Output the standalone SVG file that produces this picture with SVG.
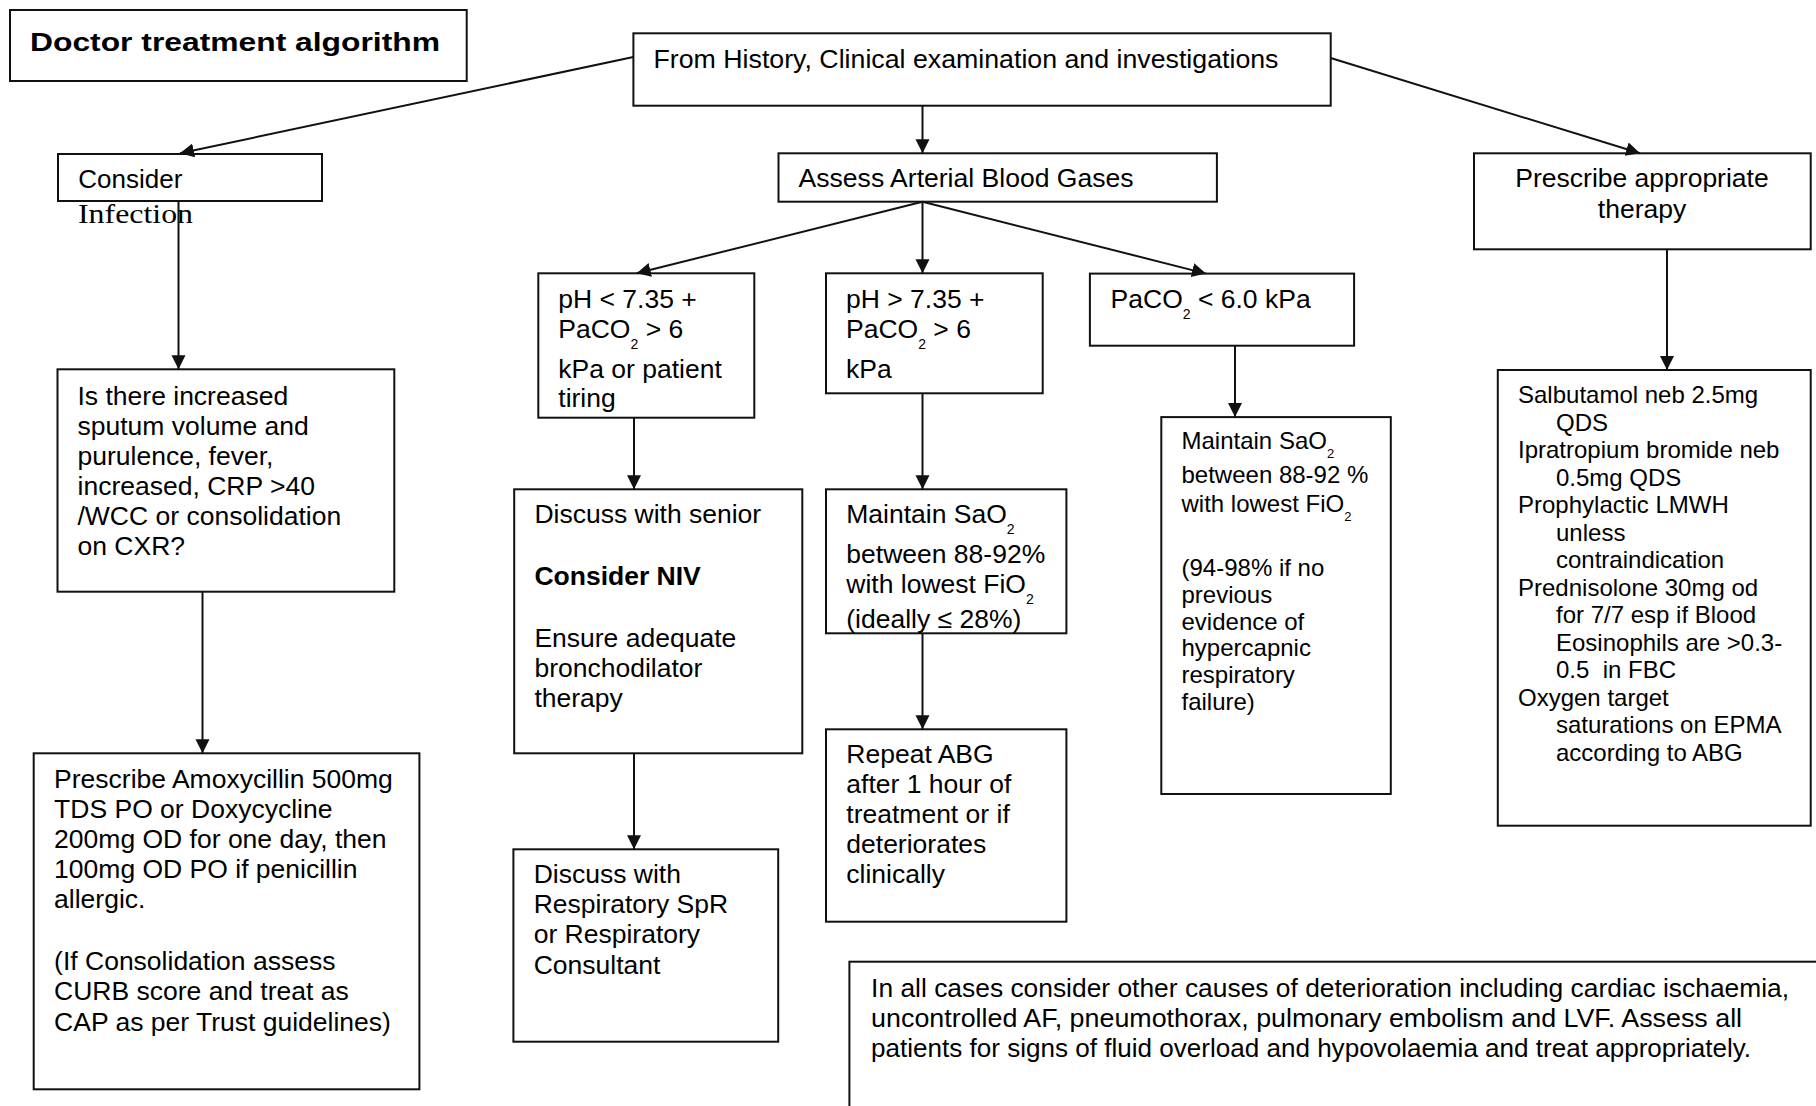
<svg xmlns="http://www.w3.org/2000/svg" width="1816" height="1106" viewBox="0 0 1816 1106">
<style>
.box{fill:#fff;stroke:#111;stroke-width:2}
.ln{fill:none;stroke:#111;stroke-width:2}
text{font-family:"Liberation Sans",Arial,sans-serif;font-size:26.5px;fill:#000}
.s{font-size:24px}
.b{font-weight:bold}
.serif{font-family:"Liberation Serif","Times New Roman",serif}
</style>
<defs>
<marker id="ah" markerUnits="userSpaceOnUse" markerWidth="16" markerHeight="16" refX="14" refY="7" orient="auto">
<path d="M0,0 L14,7 L0,14 z" fill="#111"/>
</marker>
</defs>
<rect width="1816" height="1106" fill="#fff"/>

<g id="title">
<rect class="box" x="10" y="10" width="456.7" height="71"/>
<text class="b" x="30" y="51" font-size="28" textLength="410" lengthAdjust="spacingAndGlyphs">Doctor treatment algorithm</text>
</g>

<g id="history">
<rect class="box" x="633.4" y="33.3" width="697.3" height="72.4"/>
<text x="653.5" y="68.3" textLength="625" lengthAdjust="spacingAndGlyphs">From History, Clinical examination and investigations</text>
</g>

<g id="consider">
<rect class="box" x="58" y="154" width="264" height="47"/>
<text x="78.3" y="188" textLength="104" lengthAdjust="spacingAndGlyphs">Consider</text>
<text class="serif" x="78" y="223" font-size="29" textLength="115" lengthAdjust="spacingAndGlyphs">Infection</text>
</g>

<g id="assess">
<rect class="box" x="778.5" y="153.3" width="438.4" height="48.4"/>
<text x="798.6" y="186.7" textLength="335" lengthAdjust="spacingAndGlyphs">Assess Arterial Blood Gases</text>
</g>

<g id="prescribe">
<rect class="box" x="1474" y="153.3" width="336.7" height="96"/>
<text x="1642" y="187.3" text-anchor="middle">Prescribe appropriate</text>
<text x="1642" y="218.3" text-anchor="middle">therapy</text>
</g>

<g id="infection-q">
<rect class="box" x="57.5" y="369.3" width="336.8" height="222.4"/>
<text x="77.5" y="405">Is there increased</text>
<text x="77.5" y="435">sputum volume and</text>
<text x="77.5" y="465">purulence, fever,</text>
<text x="77.5" y="495">increased, CRP &gt;40</text>
<text x="77.5" y="525">/WCC or consolidation</text>
<text x="77.5" y="555">on CXR?</text>
</g>

<g id="ph-low">
<rect class="box" x="538.3" y="273.3" width="216" height="144.4"/>
<text x="558.3" y="308.3">pH &lt; 7.35 +</text>
<text x="558.3" y="338.3">PaCO<tspan font-size="14" dy="11">2</tspan><tspan dy="-11"> &gt; 6</tspan></text>
<text x="558.3" y="378.3">kPa or patient</text>
<text x="558.3" y="406.7">tiring</text>
</g>

<g id="ph-high">
<rect class="box" x="826" y="273.3" width="216.7" height="120"/>
<text x="846" y="308.3">pH &gt; 7.35 +</text>
<text x="846" y="338.3">PaCO<tspan font-size="14" dy="11">2</tspan><tspan dy="-11"> &gt; 6</tspan></text>
<text x="846" y="378.3">kPa</text>
</g>

<g id="paco2-low">
<rect class="box" x="1089.9" y="273.6" width="264.2" height="72.1"/>
<text x="1110.6" y="308.2">PaCO<tspan font-size="14" dy="11">2</tspan><tspan dy="-11"> &lt; 6.0 kPa</tspan></text>
</g>

<g id="maintain-2">
<rect class="box" x="1161.3" y="417.1" width="229.5" height="376.9"/>
<text class="s" x="1181.5" y="449.3">Maintain SaO<tspan font-size="13" dy="9">2</tspan></text>
<text class="s" x="1181.5" y="483">between 88-92 %</text>
<text class="s" x="1181.5" y="511.8">with lowest FiO<tspan font-size="13" dy="9">2</tspan></text>
<text class="s" x="1181.5" y="576">(94-98% if no</text>
<text class="s" x="1181.5" y="602.9">previous</text>
<text class="s" x="1181.5" y="629.6">evidence of</text>
<text class="s" x="1181.5" y="656.4">hypercapnic</text>
<text class="s" x="1181.5" y="683">respiratory</text>
<text class="s" x="1181.5" y="710">failure)</text>
</g>

<g id="therapy-list">
<rect class="box" x="1497.8" y="370" width="312.9" height="455.7"/>
<text class="s" x="1518" y="403">Salbutamol neb 2.5mg</text>
<text class="s" x="1556" y="430.5">QDS</text>
<text class="s" x="1518" y="458">Ipratropium bromide neb</text>
<text class="s" x="1556" y="485.5">0.5mg QDS</text>
<text class="s" x="1518" y="513">Prophylactic LMWH</text>
<text class="s" x="1556" y="540.5">unless</text>
<text class="s" x="1556" y="568">contraindication</text>
<text class="s" x="1518" y="595.5">Prednisolone 30mg od</text>
<text class="s" x="1556" y="623">for 7/7 esp if Blood</text>
<text class="s" x="1556" y="650.5">Eosinophils are &gt;0.3-</text>
<text class="s" x="1556" y="678">0.5&#160; in FBC</text>
<text class="s" x="1518" y="705.5">Oxygen target</text>
<text class="s" x="1556" y="733">saturations on EPMA</text>
<text class="s" x="1556" y="760.5">according to ABG</text>
</g>

<g id="discuss-senior">
<rect class="box" x="514.2" y="489.3" width="288.1" height="264"/>
<text x="534.4" y="523.3">Discuss with senior</text>
<text class="b" x="534.4" y="585">Consider NIV</text>
<text x="534.4" y="646.7">Ensure adequate</text>
<text x="534.4" y="676.7">bronchodilator</text>
<text x="534.4" y="706.7">therapy</text>
</g>

<g id="maintain-1">
<rect class="box" x="826" y="489.3" width="240.4" height="144"/>
<text x="846.3" y="523.3">Maintain SaO<tspan font-size="14" dy="11">2</tspan></text>
<text x="846.3" y="562.5">between 88-92%</text>
<text x="846.3" y="593.3">with lowest FiO<tspan font-size="14" dy="11">2</tspan></text>
<text x="846.3" y="628">(ideally ≤ 28%)</text>
</g>

<g id="amoxycillin">
<rect class="box" x="33.7" y="753.3" width="385.7" height="336"/>
<text x="54.1" y="788.3">Prescribe Amoxycillin 500mg</text>
<text x="54.1" y="818.3">TDS PO or Doxycycline</text>
<text x="54.1" y="848.3">200mg OD for one day, then</text>
<text x="54.1" y="878.3">100mg OD PO if penicillin</text>
<text x="54.1" y="908.3">allergic.</text>
<text x="54.1" y="970">(If Consolidation assess</text>
<text x="54.1" y="1000">CURB score and treat as</text>
<text x="54.1" y="1031">CAP as per Trust guidelines)</text>
</g>

<g id="discuss-resp">
<rect class="box" x="513.4" y="849.3" width="264.8" height="192.4"/>
<text x="533.7" y="883.3">Discuss with</text>
<text x="533.7" y="913.3">Respiratory SpR</text>
<text x="533.7" y="943.3">or Respiratory</text>
<text x="533.7" y="974">Consultant</text>
</g>

<g id="repeat-abg">
<rect class="box" x="826" y="729.3" width="240.4" height="192.4"/>
<text x="846.3" y="763.3">Repeat ABG</text>
<text x="846.3" y="793.3">after 1 hour of</text>
<text x="846.3" y="823.3">treatment or if</text>
<text x="846.3" y="853.3">deteriorates</text>
<text x="846.3" y="883.3">clinically</text>
</g>

<g id="all-cases">
<rect class="box" x="849.4" y="961.7" width="980" height="160"/>
<text x="871.1" y="996.5" font-size="25" textLength="918" lengthAdjust="spacingAndGlyphs">In all cases consider other causes of deterioration including cardiac ischaemia,</text>
<text x="871.1" y="1026.5" font-size="25" textLength="871" lengthAdjust="spacingAndGlyphs">uncontrolled AF, pneumothorax, pulmonary embolism and LVF. Assess all</text>
<text x="871.1" y="1056.5" font-size="25" textLength="880" lengthAdjust="spacingAndGlyphs">patients for signs of fluid overload and hypovolaemia and treat appropriately.</text>
</g>

<g id="connectors">
<line class="ln" x1="633.4" y1="57" x2="180" y2="153.3" marker-end="url(#ah)"/>
<line class="ln" x1="922.5" y1="105.7" x2="922.5" y2="153.3" marker-end="url(#ah)"/>
<line class="ln" x1="1330.7" y1="58" x2="1640" y2="153.3" marker-end="url(#ah)"/>
<line class="ln" x1="178.5" y1="201" x2="178.5" y2="369.3" marker-end="url(#ah)"/>
<line class="ln" x1="202.5" y1="591.7" x2="202.5" y2="753.3" marker-end="url(#ah)"/>
<line class="ln" x1="922.5" y1="201.7" x2="636.7" y2="273.3" marker-end="url(#ah)"/>
<line class="ln" x1="922.5" y1="201.7" x2="922.5" y2="273.3" marker-end="url(#ah)"/>
<line class="ln" x1="922.5" y1="201.7" x2="1206" y2="273.6" marker-end="url(#ah)"/>
<line class="ln" x1="634" y1="417.7" x2="634" y2="489.3" marker-end="url(#ah)"/>
<line class="ln" x1="922.5" y1="393.3" x2="922.5" y2="489.3" marker-end="url(#ah)"/>
<line class="ln" x1="1235" y1="345.7" x2="1235" y2="417.1" marker-end="url(#ah)"/>
<line class="ln" x1="1667" y1="249.3" x2="1667" y2="370" marker-end="url(#ah)"/>
<line class="ln" x1="634" y1="753.3" x2="634" y2="849.3" marker-end="url(#ah)"/>
<line class="ln" x1="922.5" y1="633.3" x2="922.5" y2="729.3" marker-end="url(#ah)"/>
</g>
</svg>
